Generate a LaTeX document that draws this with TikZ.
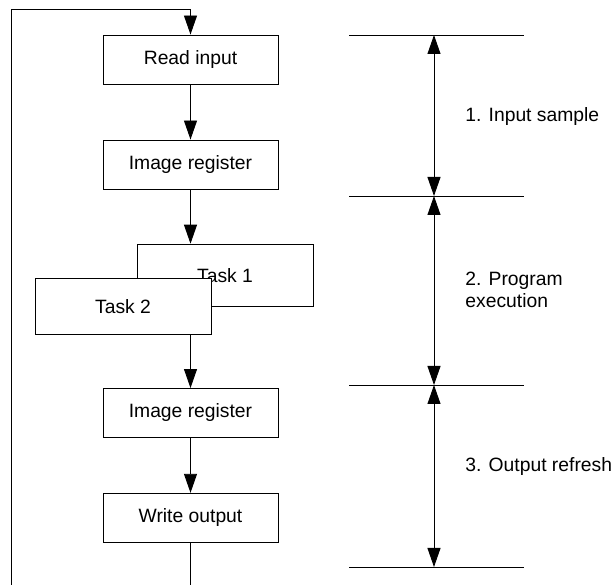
\documentclass[tikz,border=0pt]{standalone}
\usepackage{fontspec}
\setmainfont{Liberation Sans}
\usetikzlibrary{arrows.meta}
\begin{document}
\begin{tikzpicture}[x=1pt,y=-1pt,line width=0.9pt,
  box/.style={draw,fill=white,minimum width=175pt,minimum height=49pt,inner sep=0pt,font=\fontsize{19.3}{22}\selectfont},
  lbl/.style={anchor=west,inner sep=0pt,align=left,font=\fontsize{19.3}{22}\selectfont},
  arr/.style={-{Triangle[length=19pt,width=13pt]}},
  darr/.style={{Triangle[length=19pt,width=13pt]}-{Triangle[length=19pt,width=13pt]}},
  sep/.style={line width=0.8pt}]
\useasboundingbox (0,0) rectangle (614,585);
% flow boxes
\node[box] (read) at (190.5,59.5) {Read input};
\node[box] (reg1) at (190.5,164.5) {Image register};
\node[box,minimum width=176pt,minimum height=62.7pt] (task1) at (225,275.5) {Task 1};
\node[box,minimum width=176pt,minimum height=56pt] (task2) at (123,306.7) {Task 2};
\node[box] (reg2) at (190.5,413) {Image register};
\node[box] (write) at (190.5,517.8) {Write output};
% loop coordinates
\coordinate (bot) at (190.5,585);
\coordinate (lb) at (11,585);
\coordinate (lt) at (11,9);
\coordinate (rt) at (190.5,9);
% connectors
\draw[arr] (read) -- (reg1);
\draw[arr] (reg1.south) -- (reg1.south |- task1.north);
\draw[arr] (task2.south -| reg2.north) -- (reg2.north);
\draw[arr] (reg2) -- (write);
\draw (write.south) -- (bot);
\draw[arr] (lb) -- (lt) -- (rt) -- (read.north);
% phase separators
\coordinate (a1) at (349,35);  \coordinate (b1) at (524,35);
\coordinate (a2) at (349,196); \coordinate (b2) at (524,196);
\coordinate (a3) at (349,385); \coordinate (b3) at (524,385);
\coordinate (a4) at (349,567); \coordinate (b4) at (524,567);
\draw[sep] (a1) -- (b1);
\draw[sep] (a2) -- (b2);
\draw[sep] (a3) -- (b3);
\draw[sep] (a4) -- (b4);
\coordinate (m1) at (434,35);
\coordinate (m2) at (434,196);
\coordinate (m3) at (434,385);
\coordinate (m4) at (434,567);
\draw[darr] (m1) -- (m2);
\draw[darr] (m2) -- (m3);
\draw[darr] (m3) -- (m4);
% labels
\node[lbl] (p1) at (465,117) {1. Input sample};
\node[lbl] (p2) at (465,290) {2. Program\\execution};
\node[lbl] (p3) at (465,466.7) {3. Output refresh};
\end{tikzpicture}
\end{document}
